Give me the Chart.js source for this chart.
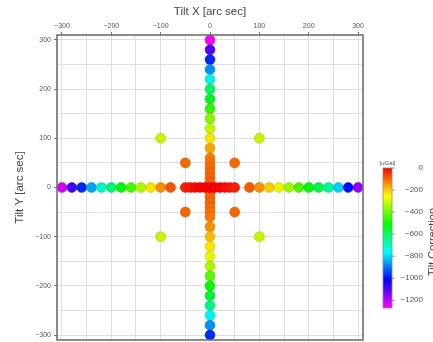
<!DOCTYPE html>
<html>
<head>
<meta charset="utf-8">
<script src="https://cdn.jsdelivr.net/npm/chart.js@4.4.1/dist/chart.umd.min.js"></script>
<style>
  html, body { margin: 0; padding: 0; background: #ffffff; }
  #wrap { width: 433px; height: 342px; }
</style>
</head>
<body>
<div id="wrap"><canvas id="c" width="433" height="342"></canvas></div>
<script>
// ---- Data ----
// Points along the Tilt X axis (Tilt Y = 0)
const rowX = [-300, -280, -260, -240, -220, -200, -180, -160, -140, -120, -100, -80,
              -50, -40, -30, -20, -10, 0, 10, 20, 30, 40, 50,
              80, 100, 120, 140, 160, 180, 200, 220, 240, 260, 280, 300];
const rowValues = [-1235, -1083, -975, -845, -715, -628, -520, -433, -325, -238, -152, -87,
                   -35, -22, -13, -6, -2, 0, -2, -6, -13, -22, -35,
                   -95, -150, -215, -265, -345, -430, -520, -585, -670, -800, -1000, -1170];
// Points along the Tilt Y axis (Tilt X = 0)
const colY = [300, 280, 260, 240, 220, 200, 180, 160, 140, 120, 100, 80,
              60, 50, 40, 30, 20, 10, 0, -10, -20, -30, -40, -50, -60,
              -80, -100, -120, -140, -160, -180, -200, -220, -240, -260, -280, -300];
const colValues = [-1280, -1105, -975, -867, -737, -607, -542, -455, -368, -303, -238, -173,
                   -130, -120, -112, -106, -102, -100, -100, -100, -102, -106, -112, -118, -125,
                   -152, -195, -238, -268, -325, -412, -498, -563, -650, -758, -867, -975];
// Diagonal points
const diagX = [-100, 100, -50, 50, -50, 50, -100, 100];
const diagY = [100, 100, 50, 50, -50, -50, -100, -100];
const diagValues = [-303, -303, -108, -108, -108, -108, -303, -303];
// Axis / colour-bar labels
const xTitle = 'Tilt X [arc sec]';
const yTitle = 'Tilt Y [arc sec]';
const cbarUnit = '[uGal]';
const cbarTitle = 'Tilt Correction';
const cbarTicks = [0, -200, -400, -600, -800, -1000, -1200];
const cbarMin = -1270;
const cbarMax = 0;

// ---- Colour map (GMT-like rainbow: red at 0 -> magenta at min) ----
function valueToHue(v) {
  let t = (v - cbarMax) / (cbarMin - cbarMax);
  t = Math.max(0, Math.min(1, t));
  return 300 * t;
}
function valueToColor(v) { return 'hsl(' + valueToHue(v).toFixed(1) + ',100%,48%)'; }
function valueToBorder(v) { return 'hsl(' + valueToHue(v).toFixed(1) + ',100%,38%)'; }

function pts(xs, ys) { return xs.map((x, i) => ({ x: x, y: ys[i] })); }

const rowData = pts(rowX, rowX.map(() => 0));
const colData = pts(colY.map(() => 0), colY);
const diagData = pts(diagX, diagY);

const FONT = '"Liberation Sans", Arial, sans-serif';

const frameAndColorbar = {
  id: 'frameAndColorbar',
  afterDraw(chart) {
    const ctx = chart.ctx;
    const a = chart.chartArea;
    ctx.save();
    // plot frame
    ctx.strokeStyle = '#6e6e6e';
    ctx.lineWidth = 1.6;
    ctx.strokeRect(a.left, a.top, a.right - a.left, a.bottom - a.top);

    // colour bar
    const bx = 383, bw = 9, bt = 168, bh = 140;
    const g = ctx.createLinearGradient(0, bt, 0, bt + bh);
    for (let i = 0; i <= 30; i++) {
      const t = i / 30;
      g.addColorStop(t, 'hsl(' + (300 * t) + ',100%,50%)');
    }
    ctx.fillStyle = g;
    ctx.fillRect(bx, bt, bw, bh);
    ctx.strokeStyle = '#8a8a8a';
    ctx.lineWidth = 0.8;
    ctx.strokeRect(bx, bt, bw, bh);

    ctx.fillStyle = '#555';
    ctx.font = '8px ' + FONT;
    ctx.textAlign = 'right';
    ctx.textBaseline = 'middle';
    cbarTicks.forEach(v => {
      const y = bt + (v - cbarMax) / (cbarMin - cbarMax) * bh;
      ctx.strokeStyle = '#777';
      ctx.beginPath();
      ctx.moveTo(bx + bw, y);
      ctx.lineTo(bx + bw + 3, y);
      ctx.stroke();
      ctx.fillText(v === 0 ? '0' : '\u2212' + Math.abs(v), 423, y);
    });

    ctx.font = '6px ' + FONT;
    ctx.textAlign = 'center';
    ctx.textBaseline = 'bottom';
    ctx.fillStyle = '#555';
    ctx.fillText(cbarUnit, bx + bw / 2, bt - 2);

    ctx.translate(427, 242);
    ctx.rotate(-Math.PI / 2);
    ctx.font = '11px ' + FONT;
    ctx.textAlign = 'center';
    ctx.textBaseline = 'top';
    ctx.fillStyle = '#444';
    ctx.fillText(cbarTitle, 0, 0);
    ctx.restore();
  }
};

function tickLabel(v) {
  if (v % 100 !== 0) return '';
  return v < 0 ? '\u2212' + Math.abs(v) : String(v);
}
function tickCol(ctx) {
  const v = ctx.tick ? ctx.tick.value : 1;
  return (v % 100 === 0) ? '#777' : 'rgba(0,0,0,0)';
}

new Chart(document.getElementById('c'), {
  type: 'scatter',
  data: {
    datasets: [
      {
        label: 'row',
        data: rowData,
        backgroundColor: rowValues.map(valueToColor),
        borderColor: rowValues.map(valueToBorder),
        borderWidth: 0.5,
        pointRadius: 5,
        order: 1
      },
      {
        label: 'column',
        data: colData,
        backgroundColor: colValues.map(valueToColor),
        borderColor: colValues.map(valueToBorder),
        borderWidth: 0.5,
        pointRadius: 5,
        order: 2
      },
      {
        label: 'diagonal',
        data: diagData,
        backgroundColor: diagValues.map(valueToColor),
        borderColor: diagValues.map(valueToBorder),
        borderWidth: 0.5,
        pointRadius: 5,
        order: 3
      }
    ]
  },
  options: {
    responsive: false,
    animation: false,
    events: [],
    layout: { autoPadding: false, padding: { right: 70, bottom: 2, top: 0, left: 0 } },
    plugins: { legend: { display: false }, tooltip: { enabled: false } },
    scales: {
      x: {
        type: 'linear',
        position: 'top',
        min: -310, max: 310,
        afterFit(s) { s.height = 35; s.paddingLeft = 0; s.paddingRight = 0; },
        border: { display: false },
        grid: { color: '#dedede', lineWidth: 1, drawTicks: true, tickLength: 3, tickColor: tickCol },
        ticks: {
          stepSize: 50, includeBounds: false, autoSkip: false, maxRotation: 0,
          padding: 2, color: '#555',
          font: { family: FONT, size: 7 },
          callback: tickLabel
        },
        title: {
          display: true, text: xTitle, color: '#444',
          font: { family: FONT, size: 11.5 },
          padding: { top: 5, bottom: 0 }
        }
      },
      y: {
        type: 'linear',
        position: 'left',
        min: -310, max: 310,
        afterFit(s) { s.width = 57; s.paddingTop = 0; s.paddingBottom = 0; },
        border: { display: false },
        grid: { color: '#dedede', lineWidth: 1, drawTicks: true, tickLength: 3, tickColor: tickCol },
        ticks: {
          stepSize: 50, includeBounds: false, autoSkip: false,
          padding: 3, color: '#555',
          font: { family: FONT, size: 7 },
          callback: tickLabel
        },
        title: {
          display: true, text: yTitle, color: '#444',
          font: { family: FONT, size: 11.5 },
          padding: { top: 13, bottom: 0 }
        }
      }
    }
  },
  plugins: [frameAndColorbar]
});
</script>
</body>
</html>
